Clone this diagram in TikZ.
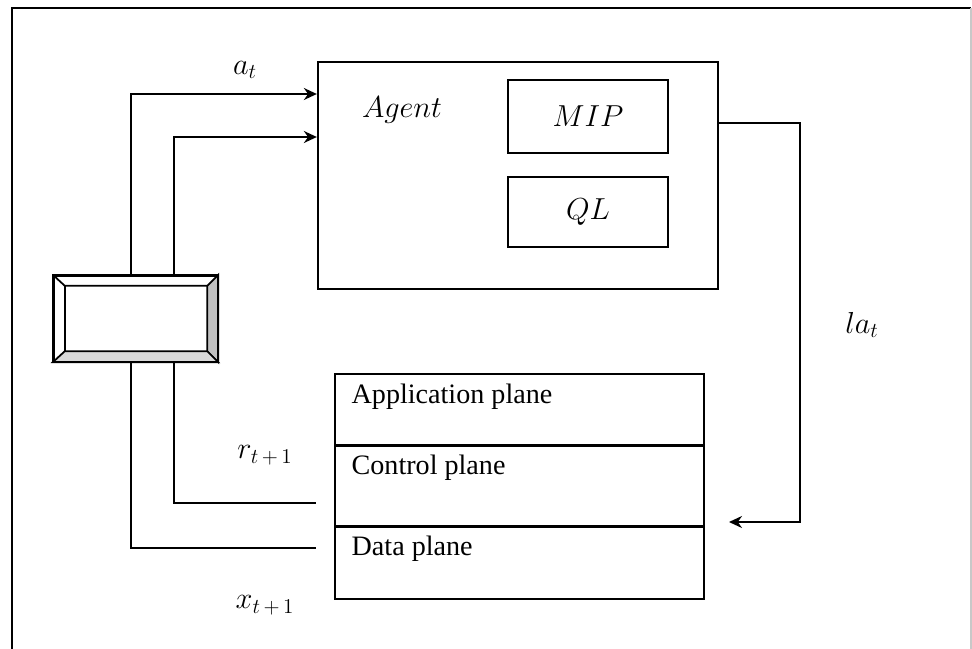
\documentclass[tikz,border=0pt]{standalone}
\usepackage{fontspec}
\setmainfont{Liberation Serif}
\usetikzlibrary{arrows.meta, positioning, calc}
\definecolor{lineColor}{HTML}{000000}
\definecolor{frameGray}{HTML}{C8C8C8}
\definecolor{bevelSide}{HTML}{C0C0C0}
\definecolor{bevelBase}{HTML}{D9D9D9}

\begin{document}
\begin{tikzpicture}[
    % Box Styles
    base/.style={
        draw=lineColor,
        sharp corners,
        align=center,
        inner sep=0pt,
        font=\fontsize{17}{20}\selectfont
    },
    agentBox/.style={
        base,
        line width=1.3pt,
        minimum width=8cm,
        minimum height=4.54cm
    },
    solverBox/.style={
        base,
        line width=1.3pt,
        minimum width=3.2cm,
        minimum height=1.46cm
    },
    planeBox/.style={
        base,
        line width=0.8pt,
        minimum width=7.38cm
    },
    bufferBox/.style={
        base,
        line width=1.3pt,
        minimum width=3.26cm,
        minimum height=1.7cm
    },
    % Line Styles
    connector/.style={
        ->,
        line width=1.1pt,
        color=lineColor,
        >={Stealth[length=2.6mm, width=2.4mm]}
    },
    plainLine/.style={
        line width=1.1pt,
        color=lineColor
    },
    % Text Styles
    planeText/.style={
        font=\fontsize{16}{19}\selectfont,
        anchor=north west,
        inner sep=0pt
    },
    sigLabel/.style={
        font=\fontsize{17}{20}\selectfont
    }
]

    % --- PAGE & FRAME ---
    \useasboundingbox (0,0) rectangle (19.44,-12.96);
    \draw[line width=1.6pt] (0.24,-13.2) -- (0.24,-0.16) -- (19.42,-0.16);
    \draw[frameGray, line width=0.8pt] (19.42,-0.16) -- (19.42,-13.2);

    % --- AGENT ---
    \node[agentBox] (agent) at (10.36,-3.51) {};
    \node[sigLabel] (agentText) at (8.04,-2.2) {$Agent$};
    \node[solverBox] (mip) at (11.76,-2.33) {$MIP$};
    \node[solverBox, minimum height=1.4cm] (ql) at (11.76,-4.24) {$QL$};

    % --- SDN PLANES ---
    \node[planeBox, minimum height=1.42cm] (app) at (10.39,-8.19) {};
    \node[planeBox, minimum height=1.58cm, below=0pt of app] (ctrl) {};
    \node[planeBox, minimum height=1.44cm, below=0pt of ctrl] (data) {};
    \node[planeText] (appText) at ($(app.north west)+(0.34,-0.2)$) {Application plane};
    \node[planeText] (ctrlText) at ($(ctrl.north west)+(0.34,-0.18)$) {Control plane};
    \node[planeText] (dataText) at ($(data.north west)+(0.34,-0.2)$) {Data plane};

    % --- BUFFER (bevelled box) ---
    \node[bufferBox] (buffer) at (2.71,-6.37) {};
    \coordinate (bNW) at ($(buffer.north west)+(0.24,-0.22)$);
    \coordinate (bNE) at ($(buffer.north east)+(-0.22,-0.22)$);
    \coordinate (bSW) at ($(buffer.south west)+(0.24,0.22)$);
    \coordinate (bSE) at ($(buffer.south east)+(-0.22,0.22)$);
    \filldraw[fill=bevelSide, line width=1pt] (buffer.north east) -- (buffer.south east) -- (bSE) -- (bNE) -- cycle;
    \filldraw[fill=bevelBase, line width=1pt] (buffer.south west) -- (buffer.south east) -- (bSE) -- (bSW) -- cycle;
    \draw[line width=1pt] (buffer.north west) -- (bNW) -- (bNE);
    \draw[line width=1pt] (bNW) -- (bSW);
    \draw[line width=1.3pt] (buffer.north west) rectangle (buffer.south east);

    % --- FREE ENDS ---
    \coordinate (rEnd) at (6.32,-10.06);
    \coordinate (xEnd) at (6.32,-10.96);
    \coordinate (laEnd) at (14.58,-10.44);

    % --- CONNECTIONS ---
    % Buffer -> Agent (state and reward)
    \draw[connector] ([xshift=-0.09cm]buffer.north) |- ([yshift=1.63cm]agent.west);
    \draw[connector] ([xshift=0.77cm]buffer.north) |- ([yshift=0.77cm]agent.west);

    % Planes -> Buffer
    \draw[plainLine] ([xshift=0.77cm]buffer.south) |- (rEnd);
    \draw[plainLine] ([xshift=-0.09cm]buffer.south) |- (xEnd);

    % Agent -> Planes (action)
    \draw[connector] ([yshift=1.05cm]agent.east) -- ++(1.62,0) |- (laEnd);

    % --- LABELS ---
    \node[sigLabel] (aLabel) at (4.9,-1.4) {$a_t$};
    \node[sigLabel] (rLabel) at (5.3,-9.1) {$r_{t\,+\,1}$};
    \node[sigLabel] (xLabel) at (5.3,-12.1) {$x_{t\,+\,1}$};
    \node[sigLabel] (laLabel) at (17.24,-6.5) {$la_t$};

\end{tikzpicture}
\end{document}
